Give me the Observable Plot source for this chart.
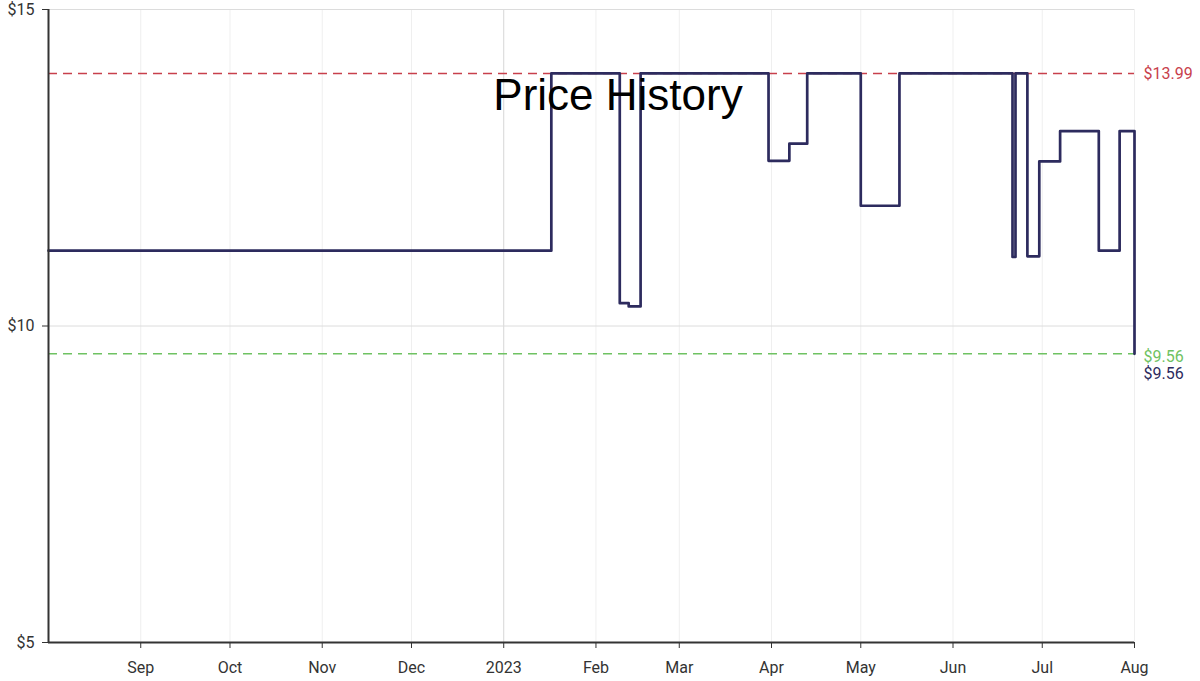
<!DOCTYPE html>
<html>
<head>
<meta charset="utf-8">
<script src="https://cdn.jsdelivr.net/npm/d3@7"></script>
<script src="https://cdn.jsdelivr.net/npm/@observablehq/plot@0.6"></script>
<style>
  html, body { margin: 0; padding: 0; background: #fff; }
  #wrap { position: relative; width: 1200px; height: 681px; overflow: hidden; }
  #title { position: absolute; left: 0; width: 1236px; top: 70px; text-align: center;
           font-family: "Liberation Sans", Arial, sans-serif; font-size: 44px; color: #000; pointer-events: none; }
</style>
</head>
<body>
<div id="wrap"><div id="title">Price History</div></div>
<script>
// Price change dates and prices (step-after)
const dates = [
  "2022-08-01", "2023-01-17", "2023-02-09", "2023-02-12", "2023-02-16",
  "2023-03-31", "2023-04-07", "2023-04-13", "2023-05-01", "2023-05-14",
  "2023-06-21", "2023-06-22", "2023-06-26", "2023-06-30", "2023-07-07",
  "2023-07-20", "2023-07-27", "2023-08-01"
];
const prices = [
  11.19, 13.99, 10.36, 10.31, 13.99,
  12.61, 12.88, 13.99, 11.90, 13.99,
  11.09, 13.99, 11.10, 12.60, 13.08,
  11.19, 13.08, 9.56
];
const highPrice = 13.99;
const lowPrice = 9.56;
const currentPrice = 9.56;
const yTicks = [5, 10, 15];
const xDomain = ["2022-08-01", "2023-08-01"];

const parse = d3.utcParse("%Y-%m-%d");
const data = dates.map((d, i) => ({date: parse(d), price: prices[i]}));
const start = parse(xDomain[0]);
const end = parse(xDomain[1]);
const monthTicks = d3.utcMonth.range(d3.utcMonth.offset(start, 1), d3.utcDay.offset(end, 1));
const fmtTick = d => d.getUTCMonth() === 0 ? d3.utcFormat("%Y")(d) : d3.utcFormat("%b")(d);

const navy = "#2d2b5e";
const red = "#c8404c";
const green = "#6fc262";

const chart = Plot.plot({
  width: 1200,
  height: 681,
  marginLeft: 48,
  marginRight: 66,
  marginTop: 9,
  marginBottom: 39,
  style: {fontFamily: "Roboto, sans-serif", fontSize: "16px", color: "#333", background: "transparent"},
  x: {type: "utc", domain: [start, end]},
  y: {domain: [5, 15]},
  marks: [
    Plot.gridX(monthTicks, {stroke: d => d.getUTCMonth() === 0 ? "#d6d6d6" : "#efefef", strokeOpacity: 1}),
    Plot.gridY(yTicks, {stroke: "#dcdcdc", strokeOpacity: 1}),
    Plot.ruleY([highPrice], {stroke: red, strokeDasharray: "9,6", strokeWidth: 1.5}),
    Plot.ruleY([lowPrice], {stroke: green, strokeDasharray: "9,6", strokeWidth: 1.5}),
    Plot.line(data, {x: "date", y: "price", curve: "step-after", stroke: navy, strokeWidth: 2.7}),
    Plot.axisY(yTicks, {tickFormat: d => "$" + d, tickSize: 6, tickPadding: 8, fontSize: 16, label: null, stroke: "#333"}),
    Plot.axisX(monthTicks, {tickFormat: fmtTick, tickSize: 6, tickPadding: 13, fontSize: 16, label: null, stroke: "#333"}),
    Plot.ruleX([start], {stroke: "#333", strokeWidth: 2}),
    Plot.ruleY([5], {stroke: "#333", strokeWidth: 2}),
    Plot.text([highPrice], {x: () => end, y: d => d, text: d => "$" + d.toFixed(2), fill: red, dx: 9, textAnchor: "start", fontSize: 16}),
    Plot.text([lowPrice], {x: () => end, y: d => d, text: d => "$" + d.toFixed(2), fill: green, dx: 9, dy: 3, textAnchor: "start", fontSize: 16}),
    Plot.text([currentPrice], {x: () => end, y: d => d, text: d => "$" + d.toFixed(2), fill: navy, dx: 9, dy: 20, textAnchor: "start", fontSize: 16})
  ]
});
document.getElementById("wrap").prepend(chart);
</script>
</body>
</html>
